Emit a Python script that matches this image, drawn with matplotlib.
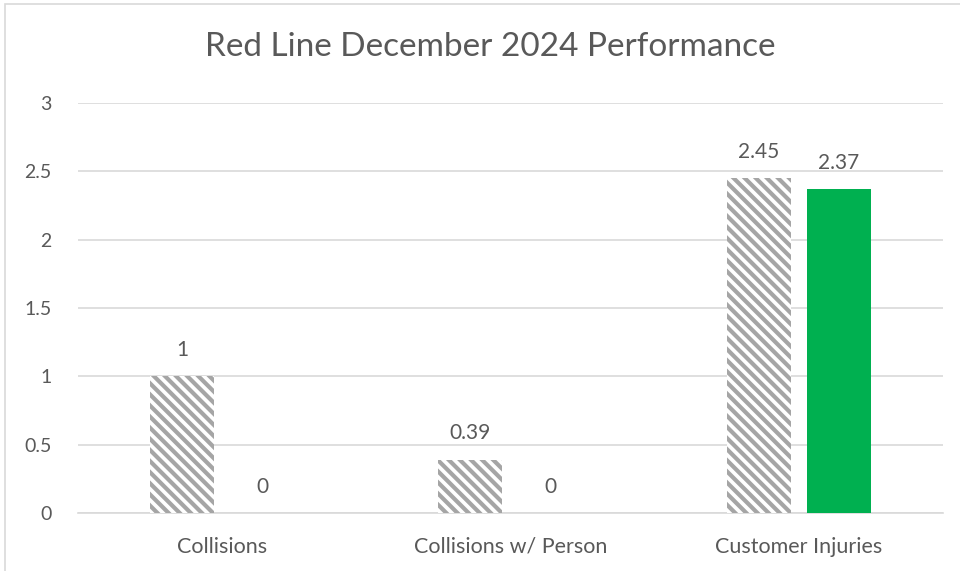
import matplotlib.pyplot as plt
import matplotlib.patches as patches
import numpy as np

categorias = ['Collisions', 'Collisions w/ Person', 'Customer Injuries']
meta = [1, 0.39, 2.45]
real = [0, 0, 2.37]
rotulos_meta = ['1', '0.39', '2.45']
rotulos_real = ['0', '0', '2.37']
ticks_y = [0, 0.5, 1, 1.5, 2, 2.5, 3]
rotulos_y = ['0', '0.5', '1', '1.5', '2', '2.5', '3']

cor_texto = '#595959'
cor_grade = '#D9D9D9'
cor_verde = '#00B050'
cor_hachura = '#A5A5A5'

plt.rcParams['font.family'] = ['Lato', 'DejaVu Sans']
plt.rcParams['hatch.linewidth'] = 3.0

fig = plt.figure(figsize=(9.6, 5.71), dpi=100)
ax = fig.add_axes([78 / 960, 1 - 513 / 571, 865 / 960, 410 / 571])

# borda do grafico (cortada a direita e embaixo)
fig.patches.append(patches.Rectangle((5 / 960, -0.1), 1.2, (1 - 4 / 571) + 0.1,
                                     transform=fig.transFigure, fill=False,
                                     edgecolor='#D9D9D9', linewidth=1.2))

x = np.arange(len(categorias))
largura = 64 / 288
folga = 16 / 288

b1 = ax.bar(x - folga / 2 - largura / 2, meta, largura, color='white',
            edgecolor=cor_hachura, hatch='\\\\\\', linewidth=0, zorder=3)
b2 = ax.bar(x + folga / 2 + largura / 2, real, largura, color=cor_verde,
            linewidth=0, zorder=3)

for barras, rotulos in [(b1, rotulos_meta), (b2, rotulos_real)]:
    for barra, rot in zip(barras, rotulos):
        ax.annotate(rot, (barra.get_x() + barra.get_width() / 2, barra.get_height()),
                    xytext=(0, 19), textcoords='offset points', ha='center',
                    va='center', fontsize=15, color=cor_texto)

ax.set_xlim(-0.5, 2.5)
ax.set_ylim(0, 3)
ax.set_yticks(ticks_y)
ax.set_yticklabels(rotulos_y)
ax.set_xticks(x)
ax.set_xticklabels(categorias)
ax.tick_params(axis='y', length=0, pad=19, labelsize=14, labelcolor=cor_texto)
ax.tick_params(axis='x', length=0, pad=17, labelsize=15.5, labelcolor=cor_texto)
ax.grid(axis='y', color=cor_grade, linewidth=1.2, zorder=0)
for lado in ['top', 'right', 'left']:
    ax.spines[lado].set_visible(False)
ax.spines['bottom'].set_color(cor_grade)
ax.spines['bottom'].set_linewidth(1.2)

fig.text(490 / 960, 1 - 47 / 571, 'Red Line December 2024 Performance',
         ha='center', va='center', fontsize=24, color=cor_texto)

plt.savefig('out.png', dpi=100)
